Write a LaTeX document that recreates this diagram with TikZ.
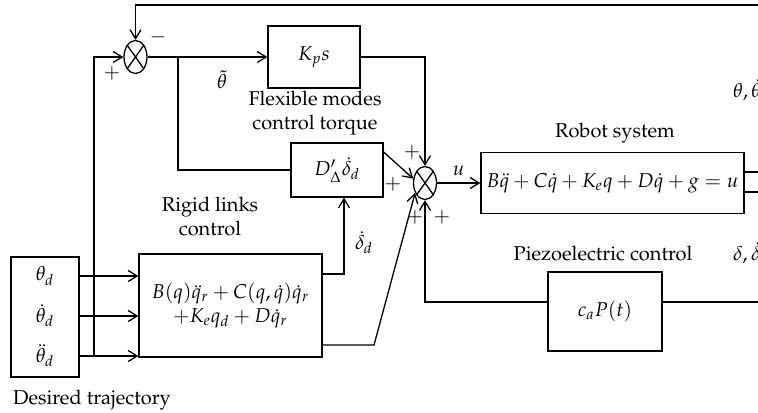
\documentclass[tikz,border=0pt]{standalone}
\usepackage[T1]{fontenc}
\usepackage{mathpazo}
\usetikzlibrary{shapes.geometric,arrows.meta}
\begin{document}
\begin{tikzpicture}[x=0.5pt,y=-0.5pt,
    bloco/.style={draw,line width=0.65pt,inner sep=2pt},
    soma/.style={ellipse,draw,line width=0.65pt,minimum width=11.5pt,minimum height=16.5pt,inner sep=0pt},
    seta/.style={-{Straight Barb[length=4.5pt,width=5.5pt]}},
    linha/.style={line width=0.65pt}
]
\useasboundingbox (0,0) rectangle (758,412);

\node[soma] (s1) at (135.5,57) {};
\node[soma] (s2) at (425,183) {};
\draw[linha] (s1.north west) -- (s1.south east) (s1.north east) -- (s1.south west);
\draw[linha] (s2.north west) -- (s2.south east) (s2.north east) -- (s2.south west);

\node[bloco,minimum width=46pt,minimum height=31pt] (kp) at (314,57) {$K_p s$};
\node[bloco,minimum width=46pt,minimum height=27pt] (dl) at (337,170) {$D'_\Delta\dot\delta_d$};
\node[bloco,minimum width=131.5pt,minimum height=30.5pt] (rob) at (612.5,183) {$B\ddot q + C\dot q + K_e q + D\dot q + g = u$};
\node[bloco,minimum width=57pt,minimum height=39.5pt] (pz) at (605,311.5) {$c_a P(t)$};
\node[bloco,minimum width=91.5pt,minimum height=51.5pt,align=center] (rig) at (230.5,305.5)
    {$B(q)\ddot q_r + C(q,\dot q)\dot q_r$\\[0pt]$+K_e q_d + D\dot q_r$};
\node[bloco,minimum width=34pt,minimum height=60pt] (des) at (45,317) {};
\node (t1) at (45,276) {$\theta_d$};
\node (t2) at (45,316) {$\dot\theta_d$};
\node (t3) at (45,356) {$\ddot\theta_d$};

\coordinate (fb) at (758,5);
\coordinate (j0) at (94,356);
\coordinate (b1) at (178,57);
\coordinate (r1) at (344,274);
\coordinate (r2) at (374,345);
\coordinate (o1) at (758,172);
\coordinate (o2) at (758,192);
\coordinate (o3) at (758,302);

\draw[linha,seta] (fb) -| (s1.north);
\draw[linha,seta] (j0) |- (s1.west);
\draw[linha,seta] (s1.east) -- (kp.west);
\draw[linha] (b1) |- (dl.west);
\draw[linha,seta] (kp.east) -| (s2.north);
\draw[linha,seta] ([yshift=9pt]dl.east) -- (s2.160);
\draw[linha,seta] (s2.east) -- node[above] {$u$} (rob.west);
\draw[linha] (rob.east |- o1) -- (o1);
\draw[linha] (rob.east |- o2) -- (o2);
\draw[linha,seta] (rig.east |- r1) -- (r1) -- (r1 |- dl.south);
\draw[linha,seta] (rig.east |- r2) -- (r2) -- (s2.225);
\draw[linha] (pz.east |- o3) -- (o3);
\draw[linha,seta] (pz.west |- o3) -| (s2.south);
\draw[linha,seta] (des.east |- t1) -- (rig.west |- t1);
\draw[linha,seta] (des.east |- t2) -- (rig.west |- t2);
\draw[linha,seta] (des.east |- t3) -- (rig.west |- t3);

\node (m1) at (158,37) {$-$};
\node (p1) at (112,73) {$+$};
\node (p2) at (412,152) {$+$};
\node (p3) at (393,184) {$+$};
\node (p4) at (415,217) {$+$};
\node (p5) at (442,217) {$+$};
\node (th) at (222,80) {$\tilde\theta$};
\node (dd) at (364,243) {$\dot\delta_d$};
\node[align=center] (lfm) at (315,113) {Flexible modes\\control torque};
\node (lrs) at (615,133) {Robot system};
\node[align=center] (lrl) at (210,216) {Rigid links\\control};
\node (lpz) at (603,253) {Piezoelectric control};
\node[anchor=west] (ly1) at (726,90) {$\theta,\dot\theta$};
\node[anchor=west] (ly2) at (726,253) {$\delta,\dot\delta$};
\node[anchor=west] (ldt) at (6,400) {Desired trajectory};
\end{tikzpicture}
\end{document}
